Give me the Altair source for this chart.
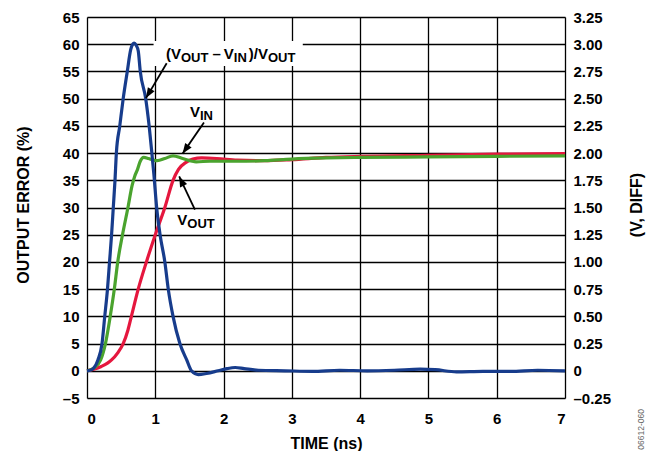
import math
import altair as alt
import pandas as pd

# ---------------- data ----------------
# Output error (%), left axis
err_t = [0, 0.05, 0.10, 0.16, 0.22, 0.26, 0.30, 0.33, 0.36, 0.385, 0.41, 0.43, 0.48, 0.53,
         0.59, 0.64, 0.67, 0.69, 0.72, 0.75, 0.78, 0.86, 0.91, 0.95, 0.98, 1.02, 1.07, 1.14,
         1.19, 1.26, 1.36, 1.46, 1.53, 1.63, 1.75, 1.92, 2.05, 2.17, 2.30, 2.51, 2.9, 3.3,
         3.7, 4.1, 4.5, 4.88, 5.1, 5.41, 5.8, 6.2, 6.6, 7.0]
err_v = [0, 0.1, 0.5, 2, 5, 10, 15, 20, 25, 30, 35, 40, 45, 50,
         55, 59, 60.0, 60.2, 59.8, 58.8, 55, 50, 45, 40, 36, 30, 25, 20,
         15, 10, 5, 2, 0, -0.7, -0.5, 0, 0.4, 0.6, 0.4, 0.1, 0, -0.1,
         0.1, 0, 0.1, 0.3, 0.2, -0.2, -0.1, -0.1, 0.1, 0]

# V_IN (V, diff), right axis
vin_t = [0, 0.1, 0.2, 0.27, 0.34, 0.40, 0.45, 0.52, 0.60, 0.66, 0.70, 0.74, 0.78, 0.83,
         0.90, 0.97, 1.03, 1.14, 1.26, 1.40, 1.60, 1.80, 2.2, 2.6, 3.0, 3.5, 4.0, 5.0, 6.0, 7.0]
vin_v = [0, 0.025, 0.1, 0.25, 0.5, 0.75, 1.0, 1.25, 1.5, 1.70, 1.79, 1.85, 1.925, 1.96,
         1.95, 1.935, 1.93, 1.95, 1.975, 1.95, 1.92, 1.925, 1.925, 1.93, 1.945, 1.955, 1.96,
         1.965, 1.97, 1.975]

# V_OUT (V, diff), right axis
vout_t = [0, 0.1, 0.21, 0.30, 0.36, 0.45, 0.53, 0.60, 0.65, 0.75, 0.87, 1.0, 1.14, 1.26,
          1.34, 1.45, 1.55, 1.68, 1.9, 2.2, 2.6, 3.0, 3.5, 4.0, 5.0, 6.0, 7.0]
vout_v = [0, 0.015, 0.04, 0.07, 0.1, 0.165, 0.25, 0.375, 0.5, 0.75, 1.0, 1.25, 1.5, 1.75,
          1.85, 1.915, 1.945, 1.955, 1.95, 1.935, 1.93, 1.94, 1.96, 1.97, 1.98, 1.99, 1.995]

x_ticks = [0, 1, 2, 3, 4, 5, 6, 7]
left_ticks = [-5, 0, 5, 10, 15, 20, 25, 30, 35, 40, 45, 50, 55, 60, 65]
right_ticks = [-0.25, 0, 0.25, 0.5, 0.75, 1.0, 1.25, 1.5, 1.75, 2.0, 2.25, 2.5, 2.75, 3.0, 3.25]

# ---------------- layout ----------------
W, H = 478, 381
FONT = "Liberation Sans"
BLUE, RED, GREEN = "#173c8c", "#e5173e", "#4aa32e"
PXX = W / 7.0     # px per ns
PXY = H / 70.0    # px per % (left axis)

err_df = pd.DataFrame({"t": err_t, "v": err_v})
vin_df = pd.DataFrame({"t": vin_t, "v": vin_v})
vout_df = pd.DataFrame({"t": vout_t, "v": vout_v})

x_enc = alt.X("t:Q", scale=alt.Scale(domain=[0, 7], nice=False, zero=False),
              axis=alt.Axis(values=x_ticks, title="TIME (ns)", grid=True, gridColor="#000",
                            gridWidth=1.3, domain=False, ticks=False, labelPadding=13,
                            labelFont=FONT, labelFontSize=15, labelFontWeight="bold",
                            labelColor="#000", titleFont=FONT, titleFontSize=16,
                            titleFontWeight="bold", titleColor="#000",
                            titleX=W / 2, titleY=50, titleBaseline="alphabetic",
                            titleAlign="center"))

yL = alt.Y("v:Q", scale=alt.Scale(domain=[-5, 65], nice=False, zero=False),
           axis=alt.Axis(orient="left", values=left_ticks, title="OUTPUT ERROR (%)",
                         grid=True, gridColor="#000", gridWidth=1.3, domain=False, ticks=False,
                         labelPadding=8, labelFont=FONT, labelFontSize=15,
                         labelFontWeight="bold", labelColor="#000",
                         labelExpr="datum.value < 0 ? '\u2013' + abs(datum.value) : datum.label",
                         titleFont=FONT, titleFontSize=16, titleFontWeight="bold",
                         titleColor="#000", titleAngle=270, titleX=-64, titleY=H / 2 - 3,
                         titleBaseline="middle", titleAlign="center"))

yR = alt.Y("v:Q", scale=alt.Scale(domain=[-0.25, 3.25], nice=False, zero=False),
           axis=alt.Axis(orient="right", values=right_ticks, title="(V, DIFF)",
                         grid=False, domain=False, ticks=False,
                         labelPadding=8, labelFont=FONT, labelFontSize=15,
                         labelFontWeight="bold", labelColor="#000",
                         labelExpr="datum.value == 0 ? '0' : (datum.value < 0 ? '\u2013' + format(abs(datum.value), '.2f') : format(datum.value, '.2f'))",
                         titleFont=FONT, titleFontSize=16, titleFontWeight="bold",
                         titleColor="#000", titleAngle=270, titleX=71, titleY=H / 2 - 3,
                         titleBaseline="middle", titleAlign="center"))

# ---------------- annotations ----------------
CW = {"(": 0.333, ")": 0.333, "V": 0.667, "O": 0.778, "U": 0.722, "T": 0.611,
      "\u2013": 0.556, "I": 0.278, "N": 0.722, "/": 0.278}
MAIN_FS, SUB_FS = 15, 13


def label_rows(x0, y0, parts):
    mains, subs = [], []
    cx = 0.0
    for txt, is_sub, gap in parts:
        cx += gap
        fs = SUB_FS if is_sub else MAIN_FS
        row = {"t": x0 + cx / PXX, "v": y0, "text": txt}
        (subs if is_sub else mains).append(row)
        cx += sum(CW.get(c, 0.6) for c in txt) * fs
    return mains, subs


lab_parts = [
    (1.157, 57.3, [("(V", False, 0), ("OUT", True, 0), ("\u2013", False, 4),
                   ("V", False, 3), ("IN", True, 0), (")/V", False, 2), ("OUT", True, 0)]),
    (1.508, 46.6, [("V", False, 0), ("IN", True, 0)]),
    (1.322, 26.8, [("V", False, 0), ("OUT", True, 0)]),
]
main_rows, sub_rows = [], []
for x0, y0, parts in lab_parts:
    m, s = label_rows(x0, y0, parts)
    main_rows += m
    sub_rows += s

# arrows: start (t, %) -> tip (t, %)
arrows = [((1.167, 56.5), (0.864, 50.1)),
          ((1.713, 45.6), (1.40, 39.9)),
          ((1.58, 29.6), (1.35, 35.7))]
arrow_lines, arrow_heads = [], []
for i, ((t0, v0), (t1, v1)) in enumerate(arrows):
    arrow_lines.append({"t": t0, "v": v0, "g": i})
    arrow_lines.append({"t": t1, "v": v1, "g": i})
    dx = (t1 - t0) * PXX
    dy = -(v1 - v0) * PXY
    ang = math.degrees(math.atan2(dx, -dy)) % 360
    arrow_heads.append({"t": t1, "v": v1, "ang": ang})

box_df = pd.DataFrame([{"t": 0.975, "t2": 3.16, "v": 60.6, "v2": 56.0}])

# ---------------- layers ----------------
box = alt.Chart(box_df).mark_rect(color="white").encode(
    x=x_enc, x2="t2:Q", y=yL, y2="v2:Q")

err_line = alt.Chart(err_df).mark_line(color=BLUE, strokeWidth=3.2, interpolate="monotone").encode(
    x=x_enc, y=yL)

main_txt = alt.Chart(pd.DataFrame(main_rows)).mark_text(
    align="left", baseline="alphabetic", font=FONT, fontSize=MAIN_FS, fontWeight="bold",
    color="#000").encode(x=x_enc, y=yL, text="text:N")
sub_txt = alt.Chart(pd.DataFrame(sub_rows)).mark_text(
    align="left", baseline="alphabetic", font=FONT, fontSize=SUB_FS, fontWeight="bold",
    color="#000", dy=3).encode(x=x_enc, y=yL, text="text:N")

arr_l = alt.Chart(pd.DataFrame(arrow_lines)).mark_line(color="#000", strokeWidth=1.8).encode(
    x=x_enc, y=yL, detail="g:N")
arr_h = alt.Chart(pd.DataFrame(arrow_heads)).mark_point(
    shape="M0,0L0.38,1L-0.38,1Z", size=420, filled=True, color="#000", opacity=1,
    strokeWidth=0).encode(x=x_enc, y=yL, angle=alt.Angle("ang:Q", scale=None))

foot = alt.Chart(pd.DataFrame({"a": [0]})).mark_text(
    text="06612-060", angle=270, align="right", baseline="middle", font=FONT,
    fontSize=8.5, color="#666").encode(x=alt.value(554), y=alt.value(392))

left = alt.layer(box, err_line, arr_l, arr_h, main_txt, sub_txt, foot)

vout_line = alt.Chart(vout_df).mark_line(color=RED, strokeWidth=3.2, interpolate="monotone").encode(
    x=x_enc, y=yR)
vin_line = alt.Chart(vin_df).mark_line(color=GREEN, strokeWidth=3.2, interpolate="monotone").encode(
    x=x_enc, y=yR)
right = alt.layer(vout_line, vin_line)

chart = alt.layer(right, left).resolve_scale(y="independent").properties(
    width=W, height=H,
    autosize=alt.AutoSizeParams(type="none"),
    padding={"left": 79, "top": 9, "right": 86, "bottom": 64},
).configure_view(stroke="#000", strokeWidth=2).configure(background="white")

chart.save("out.html", embed_options={"renderer": "svg", "actions": False})
